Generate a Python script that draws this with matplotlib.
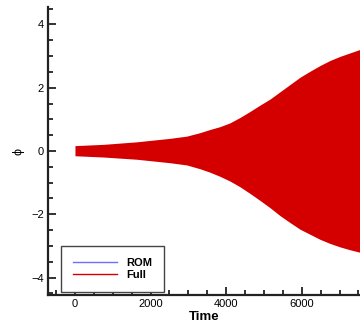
import matplotlib.pyplot as plt
from matplotlib.lines import Line2D
from matplotlib.ticker import MultipleLocator

# envelope of the (densely oscillating) phi signal
time = [0, 749, 1632, 2513, 2955, 3307, 3571, 3836, 4101, 4365, 4630, 4894,
        5159, 5423, 5688, 5952, 6217, 6481, 6746, 7011, 7275, 7540, 8000]
full_upper = [0.17, 0.21, 0.29, 0.40, 0.47, 0.58, 0.68, 0.77, 0.89, 1.06, 1.25, 1.45,
              1.64, 1.87, 2.10, 2.33, 2.52, 2.70, 2.86, 2.99, 3.10, 3.21, 3.35]
full_lower = [-0.15, -0.19, -0.26, -0.37, -0.44, -0.56, -0.67, -0.80, -0.95, -1.13, -1.34, -1.56,
              -1.79, -2.04, -2.26, -2.47, -2.63, -2.79, -2.92, -3.03, -3.12, -3.20, -3.34]

series = ['ROM', 'Full']
colors = ['#6f6fff', '#d40000']

plt.rcParams['font.family'] = ['Liberation Sans', 'DejaVu Sans']

fig = plt.figure(figsize=(3.6, 3.29), dpi=100)
ax = fig.add_axes([0.1333, 0.1033, 0.8667, 0.8754])

ax.fill_between(time, full_upper, full_lower, color=colors[1], lw=0)

ax.set_xlim(-714, 7540)
ax.set_ylim(-4.55, 4.55)
ax.xaxis.set_major_locator(MultipleLocator(2000))
ax.xaxis.set_minor_locator(MultipleLocator(500))
ax.yaxis.set_major_locator(MultipleLocator(2))
ax.yaxis.set_minor_locator(MultipleLocator(0.5))

for s in ['top', 'right']:
    ax.spines[s].set_visible(False)
for s in ['left', 'bottom']:
    ax.spines[s].set_linewidth(1.6)
    ax.spines[s].set_color('#222222')

ax.tick_params(which='both', direction='in', width=1.3, colors='#222222',
               labelcolor='black', labelsize=8)
ax.tick_params(which='major', length=6, pad=3)
ax.tick_params(which='minor', length=3.5)

ax.set_xlabel('Time', fontsize=9.5, fontweight='bold', labelpad=1)
ax.set_ylabel('ϕ', fontsize=9, labelpad=5)

handles = [Line2D([], [], color=c, lw=1) for c in colors]
leg = ax.legend(handles, series, loc='lower left', bbox_to_anchor=(0.0417, 0.0115),
                prop={'weight': 'bold', 'size': 8}, fancybox=False,
                framealpha=1, edgecolor='#444444', handlelength=4.0,
                borderpad=1.05, labelspacing=0.2, handletextpad=0.8,
                borderaxespad=0)
leg.get_frame().set_linewidth(1.0)

fig.savefig('out.png', dpi=100)
